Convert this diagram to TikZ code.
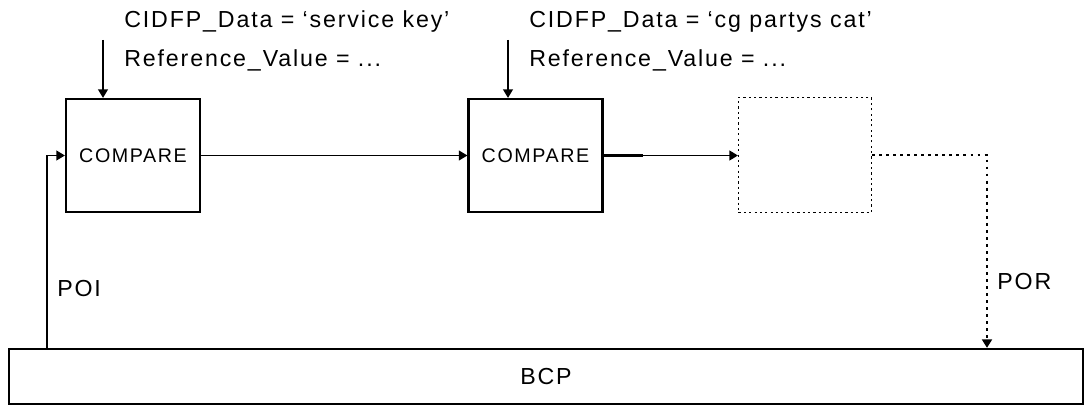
\documentclass[tikz,border=0pt]{standalone}
\usepackage{fontspec}
\setmainfont[LetterSpace=8]{Liberation Sans}
\usetikzlibrary{arrows.meta}

\begin{document}
\begin{tikzpicture}[%
  x=0.025cm, y=-0.025cm,
  box/.style = {draw, line width=1.6pt, minimum width=3.35cm,
    minimum height=2.825cm, inner sep=0pt},
  ghost/.style = {draw, line width=0.8pt, dash pattern=on 1.6pt off 2.2pt,
    minimum width=3.325cm, minimum height=2.875cm, inner sep=0pt},
  line/.style = {line width=0.9pt},
  dots/.style = {line width=1.5pt, dash pattern=on 2pt off 3pt},
  txt/.style = {anchor=west, inner sep=0pt},
  >={Triangle[length=6pt,width=7pt]},
  font=\fontsize{16.5}{19}\selectfont,
]

  \useasboundingbox (0,0) rectangle (1086,407);

  % blocks
  \node[box, font=\fontsize{14}{17}\selectfont] (cmp1) at (133,155.5) {COMPARE};
  \node[box, font=\fontsize{14}{17}\selectfont] (cmp2) at (535.5,155.5) {COMPARE};
  \node[ghost] (nxt) at (805,155) {};
  \node[box, minimum width=26.85cm, minimum height=1.375cm] (bcp) at (546,376.5) {BCP};

  % inputs from above
  \node[txt] (data1) at (124,22) {CIDFP\_Data = ‘service key’};
  \node[txt] (ref1) at (124,60) {Reference\_Value = ...};
  \node[txt] (data2) at (529,22) {CIDFP\_Data = ‘cg partys cat’};
  \node[txt] (ref2) at (529,60) {Reference\_Value = ...};

  \coordinate (key1) at (103,40);
  \coordinate (key2) at (508,40);
  \draw[line,->] (key1) -- (key1 |- cmp1.north);
  \draw[line,->] (key2) -- (key2 |- cmp2.north);

  % chain
  \draw[line,->] (cmp1) -- (cmp2);
  \draw[line,->] (cmp2.east) -- (cmp2.east -| nxt.west);
  \draw[line width=1.5pt] (cmp2.east) -- ++(39,0);

  % to and from BCP
  \coordinate (poix) at (47,0);
  \coordinate (porx) at (987,0);
  \draw[line,->] (bcp.north -| poix) |- (cmp1.west);
  \draw[dots,->] (nxt.east) -| (bcp.north -| porx);

  \node[txt] (poi) at (57,289) {POI};
  \node[txt] (por) at (997,282) {POR};

\end{tikzpicture}
\end{document}
